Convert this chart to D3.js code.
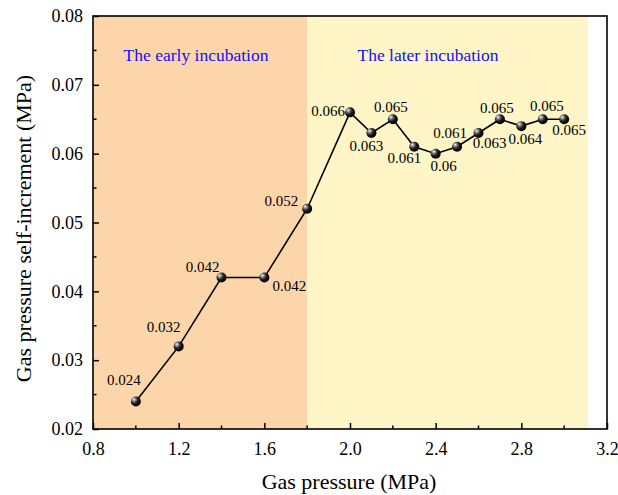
<!DOCTYPE html>
<html>
<head>
<meta charset="utf-8">
<script src="https://cdn.jsdelivr.net/npm/d3@7"></script>
<style>
  html, body { margin: 0; padding: 0; background: #fff; }
  svg { display: block; }
  text { font-family: "Liberation Serif", "Times New Roman", serif; }
</style>
</head>
<body>
<svg id="chart" width="618" height="495"></svg>
<script>
// ---- data ----
const gasPressure = [1.0, 1.2, 1.4, 1.6, 1.8, 2.0, 2.1, 2.2, 2.3, 2.4, 2.5, 2.6, 2.7, 2.8, 2.9, 3.0];
const selfIncrement = [0.024, 0.032, 0.042, 0.042, 0.052, 0.066, 0.063, 0.065, 0.061, 0.060, 0.061, 0.063, 0.065, 0.064, 0.065, 0.065];
const pointLabels = ["0.024", "0.032", "0.042", "0.042", "0.052", "0.066", "0.063", "0.065", "0.061", "0.06", "0.061", "0.063", "0.065", "0.064", "0.065", "0.065"];
const xTickValues = [0.8, 1.2, 1.6, 2.0, 2.4, 2.8, 3.2];
const xTickLabels = ["0.8", "1.2", "1.6", "2.0", "2.4", "2.8", "3.2"];
const yTickValues = [0.02, 0.03, 0.04, 0.05, 0.06, 0.07, 0.08];
const yTickLabels = ["0.02", "0.03", "0.04", "0.05", "0.06", "0.07", "0.08"];
const stageNames = ["The early incubation", "The later incubation"];
const stageStart = [0.8, 1.8];
const stageEnd = [1.8, 3.11];

// ---- label placement (style, not data) ----
const labelOffsets = [
  [-12, -20, "middle"], [-15, -17.5, "middle"], [-19, -9.5, "middle"], [25, 10, "middle"],
  [-9, -6, "end"], [-5, 0, "end"], [-5, 15, "middle"], [-2, -11, "middle"],
  [-10, 13, "middle"], [8, 14, "middle"], [-7, -12, "middle"], [11, 12, "middle"],
  [-3, -10, "middle"], [4, 14, "middle"], [4, -12, "middle"], [5, 12, "middle"]
];
const stageColors = ["#FDD5AA", "#FFF5C6"];

const margin = { left: 93, right: 11, top: 16, bottom: 66 };
const W = 618, H = 495;
const svg = d3.select("#chart");

const x = d3.scaleLinear().domain([0.8, 3.2]).range([margin.left, W - margin.right]);
const y = d3.scaleLinear().domain([0.02, 0.08]).range([H - margin.bottom, margin.top]);

// gradient for spheres
const defs = svg.append("defs");
const grad = defs.append("radialGradient").attr("id", "ball")
  .attr("cx", "35%").attr("cy", "35%").attr("r", "65%").attr("fx", "30%").attr("fy", "28%");
grad.append("stop").attr("offset", "0%").attr("stop-color", "#ffffff");
grad.append("stop").attr("offset", "25%").attr("stop-color", "#8a8a8a");
grad.append("stop").attr("offset", "60%").attr("stop-color", "#1a1a1a");
grad.append("stop").attr("offset", "100%").attr("stop-color", "#000000");

// stage backgrounds
svg.append("g").selectAll("rect").data(stageStart).join("rect")
  .attr("x", (d) => x(d))
  .attr("y", y(0.08))
  .attr("width", (d, i) => x(stageEnd[i]) - x(d))
  .attr("height", y(0.02) - y(0.08))
  .attr("fill", (d, i) => stageColors[i]);

// stage titles
svg.append("g").selectAll("text").data(stageNames).join("text")
  .attr("x", (d, i) => i === 0 ? 196 : 428)
  .attr("y", 57)
  .attr("text-anchor", "middle")
  .attr("dominant-baseline", "middle")
  .attr("font-size", "17.5px")
  .attr("fill", "#1010ff")
  .text((d) => d);

// axes
const xAxis = d3.axisBottom(x).tickValues(xTickValues).tickFormat((d, i) => xTickLabels[i])
  .tickSizeInner(-6).tickSizeOuter(0).tickPadding(13);
const gx = svg.append("g").attr("transform", `translate(0,${y(0.02)})`).call(xAxis);
gx.selectAll("text").attr("font-size", "18px").attr("font-family", "Liberation Serif").attr("fill", "#000");
gx.selectAll(".tick line").attr("stroke", "#000").attr("stroke-width", 1.5);
gx.select(".domain").remove();
// minor x ticks
const xMinor = d3.range(1.0, 3.2, 0.4);
svg.append("g").selectAll("line").data(xMinor).join("line")
  .attr("x1", (d) => x(d)).attr("x2", (d) => x(d))
  .attr("y1", y(0.02)).attr("y2", y(0.02) - 3.5)
  .attr("stroke", "#000").attr("stroke-width", 1.5);

const yAxis = d3.axisLeft(y).tickValues(yTickValues).tickFormat((d, i) => yTickLabels[i])
  .tickSizeInner(-6).tickSizeOuter(0).tickPadding(10);
const gy = svg.append("g").attr("transform", `translate(${x(0.8)},0)`).call(yAxis);
gy.selectAll("text").attr("font-size", "18px").attr("font-family", "Liberation Serif").attr("fill", "#000");
gy.selectAll(".tick line").attr("stroke", "#000").attr("stroke-width", 1.5);
gy.select(".domain").remove();
const yMinor = d3.range(0.025, 0.08, 0.01);
svg.append("g").selectAll("line").data(yMinor).join("line")
  .attr("x1", x(0.8)).attr("x2", x(0.8) + 3.5)
  .attr("y1", (d) => y(d)).attr("y2", (d) => y(d))
  .attr("stroke", "#000").attr("stroke-width", 1.5);

// frame
svg.append("rect")
  .attr("x", x(0.8)).attr("y", y(0.08))
  .attr("width", x(3.2) - x(0.8)).attr("height", y(0.02) - y(0.08))
  .attr("fill", "none").attr("stroke", "#000").attr("stroke-width", 1.6);

// axis titles
svg.append("text")
  .attr("x", (x(0.8) + x(3.2)) / 2 - 1)
  .attr("y", 489)
  .attr("text-anchor", "middle")
  .attr("font-size", "22px")
  .text("Gas pressure (MPa)");
svg.append("text")
  .attr("transform", `translate(31,${(y(0.02) + y(0.08)) / 2 + 6}) rotate(-90)`)
  .attr("text-anchor", "middle")
  .attr("font-size", "22px")
  .text("Gas pressure self-increment (MPa)");

// line
const pts = gasPressure.map((d, i) => [d, selfIncrement[i]]);
svg.append("path")
  .datum(pts)
  .attr("d", d3.line().x((d) => x(d[0])).y((d) => y(d[1])))
  .attr("fill", "none").attr("stroke", "#000").attr("stroke-width", 1.6);

// points
svg.append("g").selectAll("circle").data(pts).join("circle")
  .attr("cx", (d) => x(d[0])).attr("cy", (d) => y(d[1]))
  .attr("r", 5).attr("fill", "url(#ball)");

// point labels
svg.append("g").selectAll("text").data(pts).join("text")
  .attr("x", (d, i) => x(d[0]) + labelOffsets[i][0])
  .attr("y", (d, i) => y(d[1]) + labelOffsets[i][1])
  .attr("text-anchor", (d, i) => labelOffsets[i][2])
  .attr("dominant-baseline", "middle")
  .attr("font-size", "15px")
  .attr("fill", "#000")
  .text((d, i) => pointLabels[i]);
</script>
</body>
</html>
